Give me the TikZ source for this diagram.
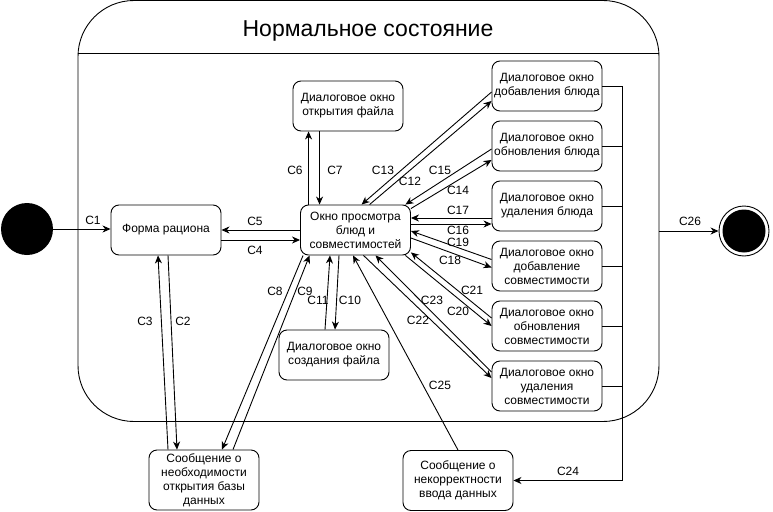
\documentclass[tikz,border=0pt]{standalone}
\usepackage{fontspec}
\setmainfont{Liberation Sans}
\usetikzlibrary{arrows.meta, positioning, calc}
\tikzset{
  every picture/.style={line width=0.9pt},
  state/.style={draw, rounded corners=8pt, align=center, minimum width=110pt, minimum height=50pt, inner sep=2pt, font=\fontsize{12}{14}\selectfont},
  msg/.style={state, minimum height=60pt},
  arrow/.style={-{Stealth[length=8pt, width=7pt, inset=2.5pt]}},
  lbl/.style={font=\fontsize{12}{14}\selectfont, inner sep=1pt},
  title/.style={font=\fontsize{23}{27}\selectfont},
}

\begin{document}
\begin{tikzpicture}[x=1pt, y=-1pt]
  \useasboundingbox (0,0) rectangle (773,511);
  % composite state
  \node[draw, rounded corners=56pt, minimum width=581pt, minimum height=421pt, inner sep=0pt] (normal) at (368.5,211) {};
  \coordinate (hdr) at (0,53);
  \draw (normal.west |- hdr) -- (normal.east |- hdr);
  \node[title] (ttl) at (368,31) {Нормальное состояние};

  \node[circle, fill=black, minimum size=52pt, inner sep=0pt] (start) at (27,229) {};
  \node[circle, draw, minimum size=50pt, inner sep=0pt] (finish) at (744,231) {};
  \node[circle, fill=black, minimum size=43pt, inner sep=0pt] (finishdot) at (finish) {};

  \node[state] (forma) at (166,230) {Форма рациона};
  \node[state] (okno) at (355.5,230) {Окно просмотра\\блюд и\\совместимостей};
  \node[state] (otkr) at (348,106) {Диалоговое окно\\открытия файла};
  \node[state] (sozd) at (334,355) {Диалоговое окно\\создания файла};
  \node[state] (dobBl) at (547,86) {Диалоговое окно\\добавления блюда};
  \node[state] (obnBl) at (547,146) {Диалоговое окно\\обновления блюда};
  \node[state] (udBl) at (547,206) {Диалоговое окно\\удаления блюда};
  \node[state] (dobSov) at (547,266) {Диалоговое окно\\добавление\\совместимости};
  \node[state] (obnSov) at (547,326) {Диалоговое окно\\обновления\\совместимости};
  \node[state] (udSov) at (547,386) {Диалоговое окно\\удаления\\совместимости};
  \node[msg] (neobh) at (204,480) {Сообщение о\\необходимости\\открытия базы\\данных};
  \node[msg] (nekorr) at (458,480.5) {Сообщение о\\некорректности\\ввода данных};

  % transitions
  \draw[arrow] (start) -- (start -| forma.west) node[lbl] at (93,220) {C1};
  \draw[arrow] ($(forma.south)+(2,0)$) -- ($(neobh.north)+(-27,0)$) node[lbl] at (183,321) {C2};
  \draw[arrow] ($(neobh.north)+(-36,0)$) -- ($(forma.south)+(-8,0)$) node[lbl] at (145,321) {C3};
  \draw[arrow] ($(forma.east)+(0,10)$) -- ($(okno.west)+(0,10)$) node[lbl] at (255,250) {C4};
  \draw[arrow] (okno.west) -- (forma.east) node[lbl] at (255,221) {C5};
  \draw[arrow] ($(okno.north west)+(8.5,0)$) -- ($(otkr.south west)+(16,0)$) node[lbl] at (295,170) {C6};
  \draw[arrow] ($(otkr.south west)+(27,0)$) -- ($(okno.north west)+(19.5,0)$) node[lbl] at (335,170) {C7};
  \draw[arrow] ($(okno.south west)+(3,0)$) -- ($(neobh.north)+(18,0)$) node[lbl] at (275,291) {C8};
  \draw[arrow] ($(neobh.north)+(29,0)$) -- ($(okno.south west)+(9.5,0)$) node[lbl] at (305,291) {C9};
  \draw[arrow] ($(okno.south)+(-16.5,0)$) -- ($(sozd.north)+(1,0)$) node[lbl] at (350,300) {C10};
  \draw[arrow] ($(sozd.north)+(-9,0)$) -- ($(okno.south)+(-25.5,0)$) node[lbl] at (318,300) {C11};
  \draw[arrow] ($(okno.north west)+(69.5,0)$) -- ($(dobBl.west)+(0,15)$) node[lbl] at (410,181) {C12};
  \draw[arrow] ($(dobBl.west)+(0,6)$) -- ($(okno.north west)+(61.5,0)$) node[lbl] at (383,170) {C13};
  \draw[arrow] ($(okno.north east)+(0,4)$) -- ($(obnBl.west)+(0,14)$) node[lbl] at (458,190) {C14};
  \draw[arrow] ($(obnBl.west)+(0,3)$) -- ($(okno.north east)+(-5.5,0)$) node[lbl] at (440,170) {C15};
  \draw[arrow] ($(okno.east)+(0,-6)$) -- ($(udBl.west)+(0,18)$) node[lbl] at (458,230) {C16};
  \draw[arrow] ($(udBl.west)+(0,12)$) -- ($(okno.east)+(0,-12)$) node[lbl] at (458,210) {C17};
  \draw[arrow] ($(okno.east)+(0,8)$) -- ($(dobSov.west)+(0,1.5)$) node[lbl] at (450,260) {C18};
  \draw[arrow] ($(dobSov.west)+(0,-6.5)$) -- ($(okno.east)+(0,1)$) node[lbl] at (458,242) {C19};
  \draw[arrow] ($(okno.south east)+(-5.5,0)$) -- (obnSov.west) node[lbl] at (458,311) {C20};
  \draw[arrow] ($(obnSov.west)+(0,-8)$) -- ($(okno.south east)+(0,-3)$) node[lbl] at (472,290) {C21};
  \draw[arrow] ($(okno.south)+(8,0)$) -- ($(udSov.west)+(0,-8)$) node[lbl] at (418,320) {C22};
  \draw[arrow] ($(udSov.west)+(0,-14)$) -- ($(okno.south)+(20,0)$) node[lbl] at (432,300) {C23};
  \draw[arrow] (nekorr.north) -- ($(okno.south)+(-2.5,0)$) node[lbl] at (440,385) {C25};

  % exits of the dialogs
  \coordinate (bus) at (622,480.5);
  \foreach \n in {dobBl, obnBl, udBl, dobSov, obnSov, udSov}
    \draw (\n.east) -- (\n.east -| bus);
  \draw[arrow] (dobBl.east -| bus) -- (bus) -- (nekorr.east) node[lbl] at (568,471) {C24};
  \draw[arrow] (normal.east |- finish) -- (finish) node[lbl] at (690,221) {C26};
\end{tikzpicture}
\end{document}
